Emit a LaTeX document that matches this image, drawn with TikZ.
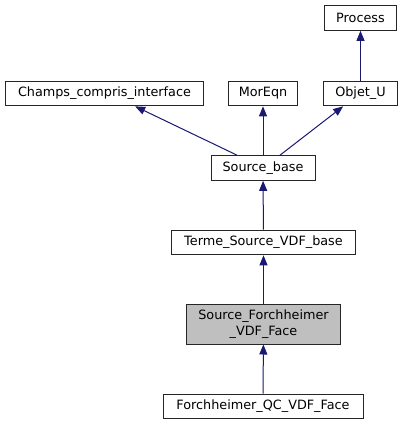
\documentclass[tikz,border=0pt]{standalone}
\usepackage{fontspec}
\setmainfont{DejaVu Sans}
\usetikzlibrary{arrows.meta}
\definecolor{edgecol}{HTML}{191970}
\definecolor{hl}{HTML}{BFBFBF}
\begin{document}
\begin{tikzpicture}[x=0.75pt,y=-0.75pt,
  cls/.style={draw=black!85,line width=0.75pt,fill=white,inner sep=0pt,minimum height=18.5pt,font=\fontsize{9.6pt}{11.8pt}\selectfont,align=center},
  arr/.style={draw=edgecol,line width=0.75pt,-{Triangle[length=7.5pt,width=6pt]}}]
\useasboundingbox (0,0) rectangle (403,425);
\node[cls,minimum width=54pt] (process) at (360.5,18) {Process};
\node[cls,minimum width=149pt] (champs) at (104.5,93.5) {Champs\_compris\_interface};
\node[cls,minimum width=52pt] (moreqn) at (263,93.5) {MorEqn};
\node[cls,minimum width=56pt] (objet) at (360.5,93.5) {Objet\_U};
\node[cls,minimum width=78pt] (sb) at (263,168) {Source\_base};
\node[cls,minimum width=138pt] (terme) at (263.5,242.5) {Terme\_Source\_VDF\_base};
\node[cls,fill=hl,minimum width=116pt,minimum height=30pt] (sf) at (263.5,324) {Source\_Forchheimer\\\_VDF\_Face};
\node[cls,minimum width=150pt] (qc) at (263,406.5) {Forchheimer\_QC\_VDF\_Face};
\draw[arr] (objet) -- (process);
\draw[arr] ([xshift=-19.5pt]sb.north) -- ([xshift=23pt]champs.south);
\draw[arr] (sb) -- (moreqn);
\draw[arr] ([xshift=12.75pt]sb.north) -- ([xshift=-13pt]objet.south);
\draw[arr] (terme) -- (sb);
\draw[arr] (sf) -- (terme);
\draw[arr] (qc) -- (sf);
\end{tikzpicture}
\end{document}
